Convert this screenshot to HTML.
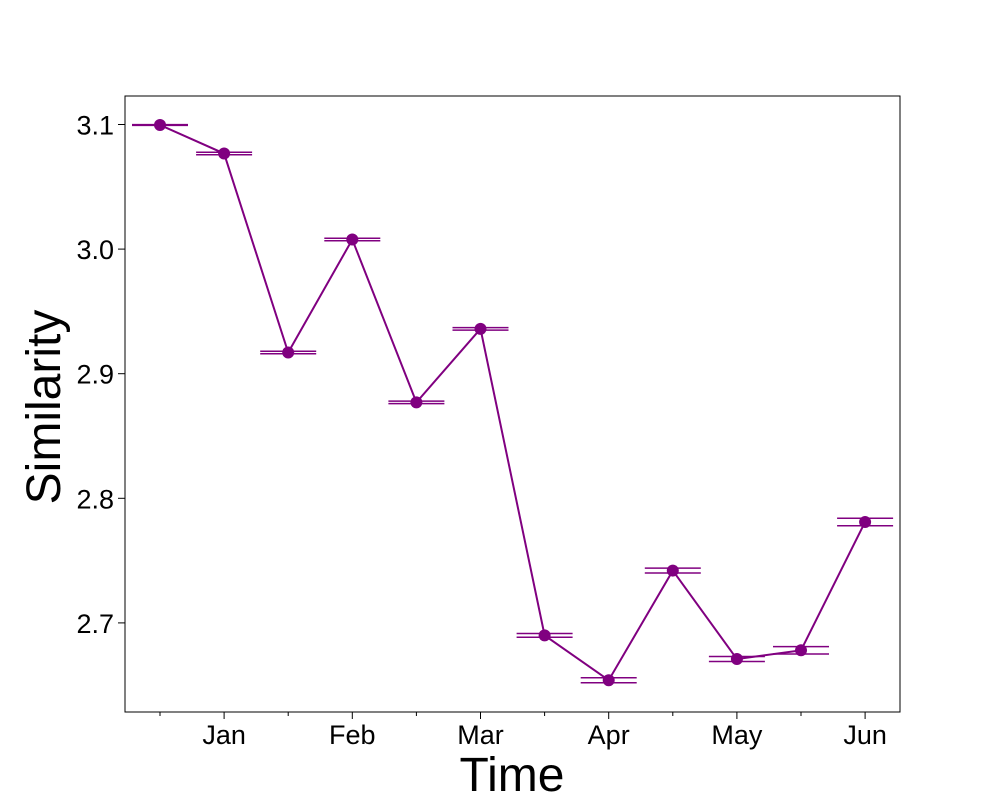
<!DOCTYPE html>
<html><head><meta charset="utf-8"><style>
body{margin:0;background:#fff;}
svg text{font-family:"Liberation Sans",sans-serif;fill:#000;}
</style></head><body>
<svg id="chart" width="1000" height="800">
<rect x="125" y="96" width="775" height="616" fill="none" stroke="#000" stroke-width="1"/>
<g id="yaxis"></g><g id="xaxis"></g><g id="series"></g>
<text x="512" y="791" font-size="48" text-anchor="middle">Time</text>
<text transform="translate(60,407) rotate(-90)" font-size="48" text-anchor="middle">Similarity</text>
</svg>
<script>
const values=[3.0996,3.0767,2.917,3.0077,2.877,2.936,2.690,2.654,2.742,2.671,2.678,2.781];
const errors=[0.0003,0.001,0.001,0.001,0.001,0.001,0.0015,0.002,0.002,0.002,0.003,0.003];
const yTicks=[2.7,2.8,2.9,3.0,3.1];
const yTickLabels=["2.7","2.8","2.9","3.0","3.1"];
const xTickLabels=["","Jan","","Feb","","Mar","","Apr","","May","","Jun"];
const NS="http://www.w3.org/2000/svg";
const xs=i=>160+i*64.1;
const ys=v=>124.5+(3.1-v)*1246;
function mk(tag,attrs,parent){const e=document.createElementNS(NS,tag);for(const k in attrs)e.setAttribute(k,attrs[k]);parent.appendChild(e);return e;}
const ya=document.getElementById('yaxis'),xa=document.getElementById('xaxis'),se=document.getElementById('series');
yTicks.forEach((t,i)=>{const y=ys(t);
const l=mk('line',{x1:118,x2:125,y1:y,y2:y,stroke:'#000'},ya);


const tx=mk('text',{x:114,y:y+10,'font-size':27,'text-anchor':'end'},ya);tx.textContent=yTickLabels[i];

});
xTickLabels.forEach((lab,i)=>{const x=xs(i);
const l=mk('line',{x1:x,x2:x,y1:712,y2:lab?719:716,stroke:'#000'},xa);


if(lab){const tx=mk('text',{x:x,y:744,'font-size':27,'text-anchor':'middle'},xa);tx.textContent=lab;

}});
const pts=values.map((v,i)=>xs(i)+','+ys(v)).join(' ');
const pl=mk('polyline',{points:pts,fill:'none',stroke:'purple','stroke-width':2},se);


values.forEach((v,i)=>{const x=xs(i);
[v-errors[i],v+errors[i]].forEach(e=>{const c=mk('line',{x1:x-28,x2:x+28,y1:ys(e),y2:ys(e),stroke:'purple','stroke-width':1.5},se);

});
const el=mk('line',{x1:x,x2:x,y1:ys(v-errors[i]),y2:ys(v+errors[i]),stroke:'purple','stroke-width':1.5},se);


const c=mk('circle',{cx:x,cy:ys(v),r:6,fill:'purple'},se);

});
</script>
</body></html>
